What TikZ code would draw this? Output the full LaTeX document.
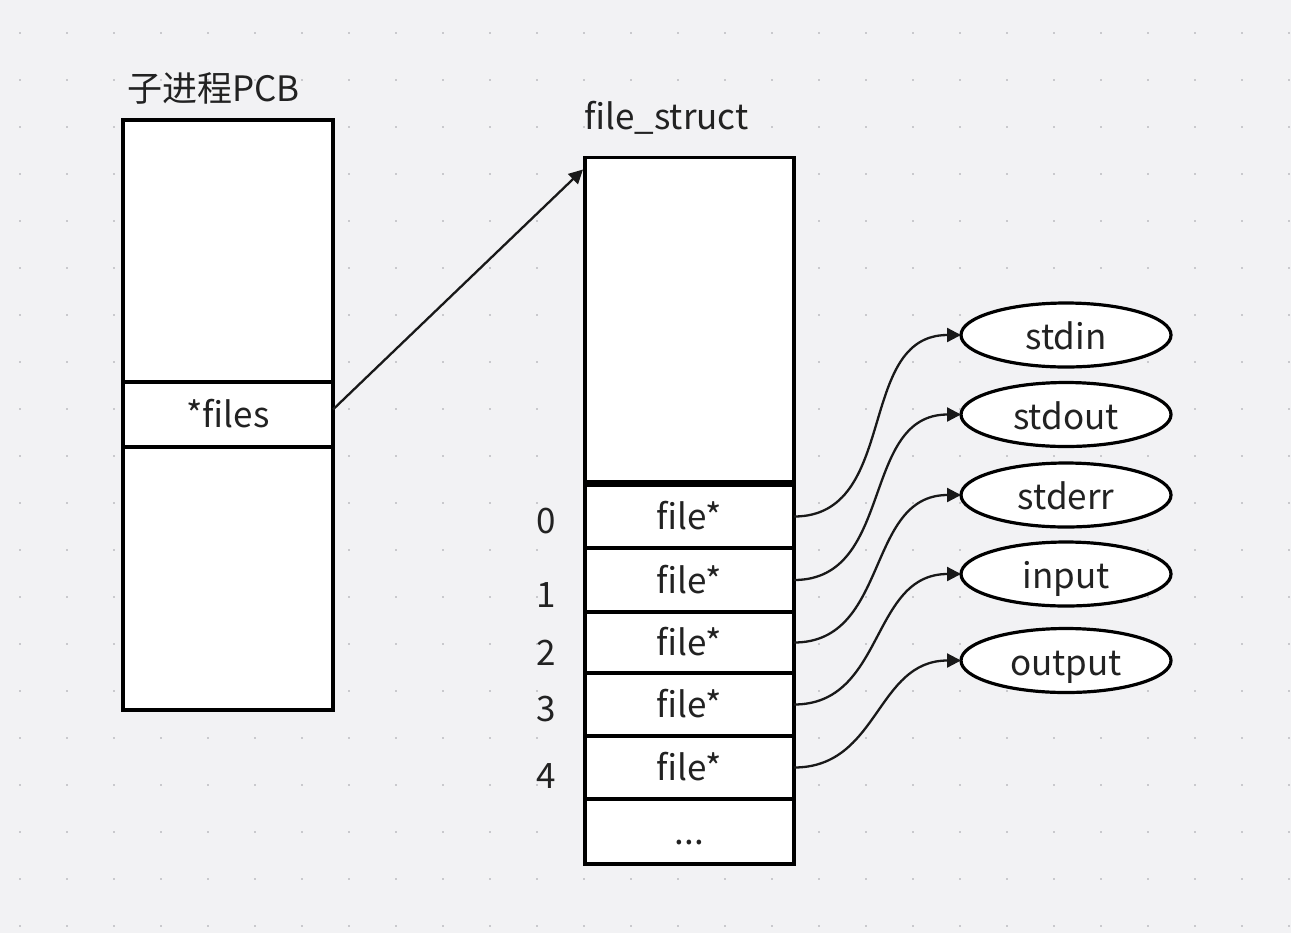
\documentclass[tikz,border=0pt]{standalone}
\usepackage{fontspec}
\setmainfont{Noto Sans CJK SC}
\usetikzlibrary{arrows.meta,calc,shapes.geometric}
\definecolor{bgc}{HTML}{F2F2F4}
\definecolor{dotc}{HTML}{C9C9CD}
\definecolor{txt}{HTML}{222222}
\tikzset{
  box/.style={draw=black, line width=1.7pt, fill=white, inner sep=0pt, outer sep=0pt, minimum width=105pt, text=txt, text height=14pt, text depth=1pt, font=\fontsize{17.5}{20}\selectfont},
  oval/.style={ellipse, draw=black, line width=1.6pt, fill=white, inner sep=0pt, outer sep=0pt, minimum width=105pt, minimum height=32pt, text=txt, text height=15.5pt, text depth=1pt, font=\fontsize{17.5}{20}\selectfont},
  lbl/.style={text=txt, inner sep=0pt, font=\fontsize{17.5}{20}\selectfont},
  conn/.style={draw=black!90, line width=1.15pt, -{Triangle[length=7pt,width=7pt]}},
}
\begin{document}
\begin{tikzpicture}[x=0.5pt,y=-0.5pt]
\fill[bgc] (0,0) rectangle (1291,933);
\useasboundingbox (0,0) rectangle (1291,933);
\foreach \i in {0,...,27} {
  \foreach \j in {0,...,19} {
    \fill[dotc] ({20+47*\i-1.2},{33+47*\j-1.2}) rectangle ++(2.4,2.4);
  }
}
% PCB
\node[box, minimum height=131pt] (pcbtop) at (228,251) {};
\node[box, minimum height=32.5pt] (files) at (228,414.5) {*files};
\node[box, minimum height=131.5pt] (pcbbot) at (228,578.5) {};
\node[lbl, anchor=west] (pcbt) at (127,88) {子进程PCB};
% file_struct
\node[lbl, anchor=west] (fst) at (584,118) {file\_struct};
\node[box, minimum width=104.5pt, minimum height=162pt] (fshead) at (689.5,319.5) {};
\node[box, minimum width=104.5pt, minimum height=31.5pt] (c0) at (689.5,516.5) {file*};
\node[box, minimum width=104.5pt, minimum height=32pt] (c1) at (689.5,580) {file*};
\node[box, minimum width=104.5pt, minimum height=30.5pt] (c2) at (689.5,642.5) {file*};
\node[box, minimum width=104.5pt, minimum height=31.5pt] (c3) at (689.5,704.5) {file*};
\node[box, minimum width=104.5pt, minimum height=31.5pt] (c4) at (689.5,767.5) {file*};
\node[box, minimum width=104.5pt, minimum height=32.5pt] (c5) at (689.5,831.5) {...};
\node[lbl] (n0) at (546,521) {0};
\node[lbl] (n1) at (546,595) {1};
\node[lbl] (n2) at (546,653) {2};
\node[lbl] (n3) at (546,709) {3};
\node[lbl] (n4) at (546,776) {4};
% ellipses
\node[oval] (e0) at (1066,335) {stdin};
\node[oval] (e1) at (1066,414.5) {stdout};
\node[oval] (e2) at (1066,495) {stderr};
\node[oval] (e3) at (1066,574) {input};
\node[oval] (e4) at (1066,660.5) {output};
% connectors
\draw[conn] ($(files.east)+(0,-5)$) -- ($(fshead.north west)+(-2,12)$);
\draw[conn] (c0.east) to[out=0,in=180,looseness=1.1] (e0.west);
\draw[conn] (c1.east) to[out=0,in=180,looseness=1.1] (e1.west);
\draw[conn] (c2.east) to[out=0,in=180,looseness=1.1] (e2.west);
\draw[conn] (c3.east) to[out=0,in=180,looseness=1.1] (e3.west);
\draw[conn] (c4.east) to[out=0,in=180,looseness=1.1] (e4.west);
\end{tikzpicture}
\end{document}
